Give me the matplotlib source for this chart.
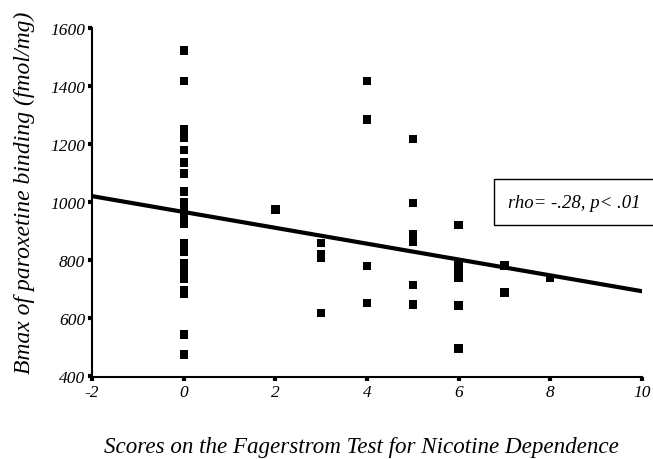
import matplotlib
matplotlib.use("Agg")
import matplotlib.pyplot as plt
import numpy as np

# Fagerstrom score vs Bmax of paroxetine binding
score_0 = [1522, 1417, 1250, 1235, 1220, 1179, 1136, 1099, 1036, 1000, 985, 970,
           955, 940, 925, 860, 845, 830, 791, 762, 748, 735, 695, 685, 544, 475]
score_2 = [975]
score_3 = [858, 820, 808, 619]
score_4 = [1417, 1285, 779, 653]
score_5 = [1218, 998, 890, 875, 862, 714, 647]
score_6 = [920, 790, 775, 755, 740, 644, 496]
score_7 = [782, 688]
score_8 = [739]

groups = {0: score_0, 2: score_2, 3: score_3, 4: score_4,
          5: score_5, 6: score_6, 7: score_7, 8: score_8}

# regression line
intercept = 966
slope = -27.3

x_ticks = [-2, 0, 2, 4, 6, 8, 10]
y_ticks = [400, 600, 800, 1000, 1200, 1400, 1600]

plt.rcParams['font.family'] = ['Liberation Serif', 'DejaVu Serif']

fig = plt.figure(figsize=(6.53, 4.6), dpi=100)
ax = fig.add_axes([0.141, 0.178, 0.842, 0.759])

for score, vals in groups.items():
    ax.scatter([score] * len(vals), vals, marker='s', s=36, color='black',
               edgecolors='none', zorder=3)

line_x = np.array([-2, 10])
ax.plot(line_x, intercept + slope * line_x, color='black', lw=3, zorder=2)

ax.set_xlim(-2, 10)
ax.set_ylim(397, 1600)
ax.set_xticks(x_ticks)
ax.set_yticks(y_ticks)
ax.set_xticklabels([str(t) for t in x_ticks], fontstyle='italic', fontsize=12.5)
ax.set_yticklabels([str(t) for t in y_ticks], fontstyle='italic', fontsize=12.5)
ax.tick_params(direction='out', length=3, width=3, pad=2)

for s in ['top', 'right']:
    ax.spines[s].set_visible(False)
for s in ['left', 'bottom']:
    ax.spines[s].set_linewidth(1.5)

ax.set_xlabel('Scores on the Fagerstrom Test for Nicotine Dependence',
              fontstyle='italic', fontsize=16.6)
ax.xaxis.set_label_coords(0.489, -0.17)
ax.set_ylabel('Bmax of paroxetine binding (fmol/mg)',
              fontstyle='italic', fontsize=17)
ax.yaxis.set_label_coords(-0.104, 0.53)

ax.text(0.757, 0.501, 'rho= -.28, p< .01', transform=ax.transAxes,
        fontstyle='italic', fontsize=13.5, va='center', ha='left',
        bbox=dict(boxstyle='square,pad=0.78', facecolor='white',
                  edgecolor='black', lw=1))

fig.savefig('out.png', dpi=100)
